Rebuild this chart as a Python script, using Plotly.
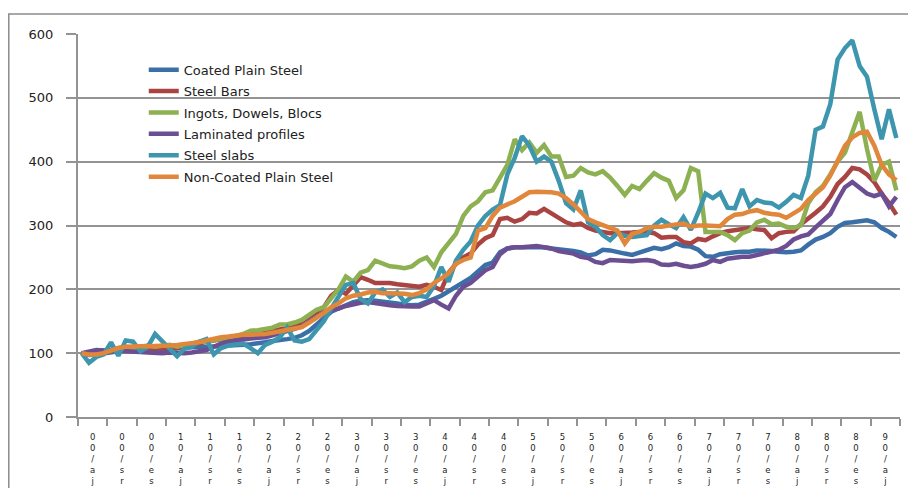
import plotly.graph_objects as go

# ---------------- data (monthly index values, 112 months) ----------------
series_names = ["Coated Plain Steel", "Steel Bars", "Ingots, Dowels, Blocs",
                "Laminated profiles", "Steel slabs", "Non-Coated Plain Steel"]
series_colors = ["#3B6FA8", "#A94442", "#8DB152", "#6C4E93", "#3E96AE", "#E0873B"]

coated = [100, 97, 98, 100, 102, 103, 104, 104, 105, 105, 105, 106, 107, 107, 108, 109,
          110, 110, 110, 111, 112, 112, 113, 114, 115, 117, 119, 120, 122, 124, 128, 135,
          145, 155, 165, 170, 175, 180, 182, 183, 182, 181, 180, 178, 176, 175, 176, 180,
          185, 190, 197, 203, 210, 218, 228, 238, 242, 258, 264, 266, 266, 266, 266, 266,
          264, 263, 262, 260, 258, 253, 255, 262, 261, 258, 256, 254, 258, 262, 265, 263,
          266, 272, 268, 267, 262, 252, 251, 255, 257, 258, 259, 259, 261, 261, 260, 259,
          258, 259, 261, 270, 278, 282, 288, 298, 304, 305, 307, 308, 305, 296, 290, 282]

bars = [100, 100, 102, 104, 103, 105, 106, 107, 107, 108, 108, 107, 108, 108, 110, 112,
        115, 118, 120, 122, 124, 126, 128, 130, 132, 134, 136, 137, 139, 141, 150, 158,
        165, 172, 190, 199, 193, 205, 219, 215, 210, 210, 210, 208, 207, 206, 204, 207,
        204, 199, 226, 240, 250, 256, 270, 280, 285, 310, 312, 306, 310, 320, 319, 326,
        319, 312, 305, 301, 303, 296, 292, 290, 288, 288, 288, 289, 290, 290, 288, 281,
        282, 282, 274, 272, 279, 277, 283, 288, 291, 293, 295, 296, 294, 293, 280, 288,
        290, 291, 302, 310, 320, 330, 345, 365, 376, 390, 388, 380, 368, 350, 335, 317]

ingots = [100, 98, 100, 103, 105, 108, 110, 108, 110, 112, 110, 112, 113, 110, 112, 115,
          118, 118, 120, 122, 124, 127, 130, 135, 136, 138, 140, 145, 145, 148, 152, 160,
          168, 172, 185, 200, 220, 212, 226, 230, 245, 240, 236, 235, 233, 236, 245, 250,
          235, 258, 272, 287, 315, 330, 338, 352, 355, 375, 395, 435, 418, 430, 414, 426,
          408, 408, 376, 378, 390, 383, 380, 385, 375, 362, 348, 362, 357, 370, 382, 375,
          370, 343, 355, 390, 385, 290, 290, 290, 285, 277, 288, 292, 305, 309, 302, 303,
          298, 296, 300, 335, 352, 362, 380, 400, 414, 445, 478, 420, 370, 395, 400, 355]

laminated = [100, 103, 105, 104, 103, 103, 103, 103, 102, 101, 100, 100, 101, 100, 100, 101,
             103, 105, 110, 115, 118, 120, 122, 123, 124, 125, 128, 131, 135, 138, 142, 150,
             158, 164, 168, 170, 174, 177, 179, 180, 178, 176, 175, 174, 173, 173, 173, 178,
             183, 176, 170, 190, 204, 210, 220, 230, 235, 255, 264, 266, 266, 267, 268, 266,
             264, 260, 258, 256, 251, 249, 243, 241, 246, 245, 244, 244, 245, 246, 244, 239,
             238, 240, 237, 235, 237, 240, 246, 243, 248, 250, 251, 251, 254, 257, 260, 262,
             268, 278, 283, 286, 297, 308, 318, 340, 360, 368, 358, 350, 346, 350, 330, 345]

slabs = [100, 85, 94, 98, 117, 96, 120, 118, 103, 110, 130, 118, 108, 95, 107, 110,
         118, 122, 98, 108, 112, 113, 115, 108, 100, 113, 118, 125, 140, 120, 118, 122,
         135, 150, 170, 190, 207, 210, 185, 178, 195, 200, 188, 195, 180, 188, 190, 188,
         205, 235, 212, 245, 262, 275, 300, 315, 325, 332, 380, 406, 440, 425, 400, 408,
         400, 370, 335, 325, 355, 305, 298, 285, 277, 288, 284, 282, 283, 285, 300, 309,
         302, 296, 313, 293, 320, 350, 343, 351, 328, 327, 357, 330, 340, 336, 335, 328,
         337, 348, 343, 378, 450, 455, 490, 560, 578, 590, 550, 533, 482, 435, 482, 437]

noncoated = [100, 98, 98, 100, 104, 108, 110, 111, 111, 111, 111, 112, 112, 113, 114, 115,
             117, 120, 123, 125, 126, 128, 129, 129, 129, 130, 132, 134, 136, 138, 141, 148,
             155, 163, 172, 178, 186, 190, 192, 195, 196, 194, 194, 194, 193, 191, 194, 200,
             210, 217, 225, 240, 246, 250, 292, 296, 315, 328, 333, 338, 345, 352, 353, 353,
             352, 350, 343, 333, 322, 310, 305, 301, 296, 292, 272, 287, 290, 296, 298, 298,
             300, 302, 303, 298, 300, 300, 300, 299, 310, 317, 318, 322, 324, 320, 318, 317,
             312, 320, 326, 340, 350, 360, 378, 400, 425, 438, 445, 447, 425, 395, 380, 371]

series_values = [coated, bars, ingots, laminated, slabs, noncoated]

# tick labels (stacked characters, one label per 4-month group)
label_years = ["0", "0", "0", "1", "1", "1", "2", "2", "2", "3", "3", "3", "4", "4",
               "4", "5", "5", "5", "6", "6", "6", "7", "7", "7", "8", "8", "8", "9"]
label_months = ["aj", "sr", "es"]
tick_labels = ["<br>".join([label_years[k], "0", "/",
                            label_months[k % 3][0], label_months[k % 3][1]])
               for k in range(len(label_years))]

n = len(coated)
months = list(range(n))
group = 4
boundaries = [g - 0.5 for g in range(0, n + 1, group)]
centers = [k * group + (group - 1) / 2 for k in range(len(tick_labels))]

grid = "#939393"

fig = go.Figure()
for k, (name, color, vals) in enumerate(zip(series_names, series_colors, series_values)):
    fig.add_trace(go.Scatter(x=months, y=vals, mode="lines", name=name,
                             legendgroup=f"g{k}",
                             line=dict(color=color, width=4.5)))
fig.add_trace(go.Scatter(x=[], y=[], xaxis="x2", yaxis="y", showlegend=False))

fig.update_layout(
    width=908, height=480,
    margin=dict(l=70, r=16, t=26, b=71),
    paper_bgcolor="white", plot_bgcolor="white",
    font=dict(family="DejaVu Sans", color="#222222"),
    xaxis=dict(range=[-0.5, n - 0.5], showgrid=False, zeroline=False, automargin=False,
               showline=True, linecolor=grid, linewidth=2,
               tickmode="array", tickvals=boundaries, ticktext=[""] * len(boundaries),
               ticks="outside", ticklen=7, tickwidth=2, tickcolor=grid),
    xaxis2=dict(range=[-0.5, n - 0.5], overlaying="x", anchor="y", side="bottom",
                showgrid=False, zeroline=False, showline=False, ticks="", automargin=False,
                tickmode="array", tickvals=centers, ticktext=tick_labels,
                tickangle=0, tickfont=dict(size=8.5, family="DejaVu Sans", color="#222222"),
                ticklabelstandoff=13),
    yaxis=dict(range=[0, 600], dtick=100, showgrid=True, gridcolor=grid, gridwidth=2,
               zeroline=False, showline=True, linecolor=grid, linewidth=2, automargin=False,
               ticks="outside", ticklen=10, tickwidth=2, tickcolor=grid,
               tickfont=dict(size=13, family="DejaVu Sans", color="#222222"),
               ticklabelstandoff=10),
    legend=dict(x=0.08, y=0.946, xanchor="left", yanchor="top", traceorder="grouped",
                tracegroupgap=1.5,
                bgcolor="rgba(0,0,0,0)", font=dict(size=13, family="DejaVu Sans", color="#222222")),
    showlegend=True,
    shapes=[
        dict(type="rect", xref="paper", yref="paper", x0=0.027, x1=0.4075, y0=0.58, y1=0.971,
             fillcolor="white", line=dict(width=0), layer="between"),
        dict(type="rect", xref="paper", yref="paper", x0=-0.0842, x1=1.2, y0=-0.4, y1=1.0522,
             fillcolor="rgba(0,0,0,0)", line=dict(color="#8c8c8c", width=1.5), layer="above"),
    ],
)

fig.write_html("out.html")
